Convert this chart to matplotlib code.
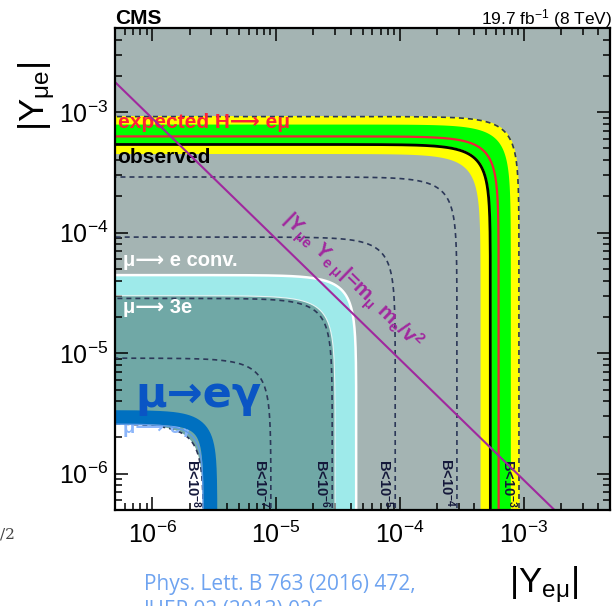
import numpy as np
import matplotlib
matplotlib.use('Agg')
import matplotlib.pyplot as plt
from matplotlib.ticker import LogLocator, NullFormatter
from matplotlib.transforms import blended_transform_factory, offset_copy

plt.rcParams['font.family'] = ['Liberation Sans', 'DejaVu Sans']
plt.rcParams['mathtext.fontset'] = 'custom'
plt.rcParams['mathtext.rm'] = 'Liberation Sans'
plt.rcParams['mathtext.it'] = 'Liberation Sans:italic'
plt.rcParams['mathtext.bf'] = 'Liberation Sans:bold'
plt.rcParams['mathtext.default'] = 'regular'

# ---------------- data ----------------
axis_range = [5e-7, 5e-3]
decade_ticks = [1e-6, 1e-5, 1e-4, 1e-3]
decade_labels = [r'$10^{-6}$', r'$10^{-5}$', r'$10^{-4}$', r'$10^{-3}$']

observed_limit = 5.4e-4
expected_limit = 6.3e-4
band_1sigma = [5.5e-4, 7.9e-4]
band_2sigma = [4.5e-4, 9.3e-4]

br_exponents = ['-8', '-7', '-6', '-5', '-4', '-3']
br_radii = [2.6e-6, 9.1e-6, 2.85e-5, 9.2e-5, 2.9e-4, 9.2e-4]

mu_e_conv_limit = 4.45e-5
mu_3e_limit = 3.0e-5
mu_e_gamma_limit = 2.6e-6
slide_mu_e_gamma_curve = 2.95e-6
naturalness_product = 8.9e-10     # m_mu m_e / v^2

# ---------------- colours ----------------
c_bg = '#a4b4b3'
c_teal = '#70a8a6'
c_cyan = '#9eeaea'
c_dash = '#2c3858'
c_magenta = '#a0289e'
c_slide_blue = '#0070c0'

P_CONTOUR = 2.5   # corner sharpness of drawn contours
P_SLIDE = 3.2


def arc(r, p=P_CONTOUR, n=1400):
    s = np.linspace(-17, 17, n)
    d = (1 + np.exp(p * s)) ** (1.0 / p)
    return r / d, r * np.exp(s) / d


TINY = 1e-16

fig = plt.figure(figsize=(6.14, 6.06), dpi=100)
ax = fig.add_axes([115 / 614, 1 - 510 / 606, 495 / 614, 482 / 606])
ax.set_xscale('log')
ax.set_yscale('log')
ax.set_xlim(axis_range)
ax.set_ylim(axis_range)
ax.set_facecolor(c_bg)

# regions
x, y = arc(mu_e_conv_limit)
ax.fill(np.r_[x, TINY], np.r_[y, TINY], color=c_cyan, lw=0, zorder=1)
x, y = arc(mu_3e_limit)
ax.fill(np.r_[x, TINY], np.r_[y, TINY], color=c_teal, lw=0, zorder=1.1)
x, y = arc(mu_e_gamma_limit)
ax.fill(np.r_[x, TINY], np.r_[y, TINY], color='white', lw=0, zorder=1.2)

# brazil bands
xo, yo = arc(band_2sigma[1])
xi, yi = arc(band_2sigma[0])
ax.fill(np.r_[xo, xi[::-1]], np.r_[yo, yi[::-1]], color='#ffff00', lw=0, zorder=2)
xo, yo = arc(band_1sigma[1])
xi, yi = arc(band_1sigma[0])
ax.fill(np.r_[xo, xi[::-1]], np.r_[yo, yi[::-1]], color='#00ff00', lw=0, zorder=2.1)

# white borders of the cyan band
x, y = arc(mu_e_conv_limit)
ax.plot(x, y, color='white', lw=1.8, zorder=2.5)
x, y = arc(mu_3e_limit)
ax.plot(x, y, color='white', lw=0.8, alpha=0.8, zorder=2.5)

# branching-ratio contours
for r in br_radii:
    x, y = arc(r)
    ax.plot(x, y, color=c_dash, lw=1.2, ls=(0, (3, 2.4)), zorder=3)

# expected / observed
x, y = arc(expected_limit)
ax.plot(x, y, color='#f0203a', lw=1.6, zorder=4)
x, y = arc(observed_limit)
ax.plot(x, y, color='black', lw=2.0, zorder=4.1)

# labels inside
ax.text(0.006, 0.793, 'expected H\u27f6 e\u03bc', transform=ax.transAxes,
        color='#ff1f3a', fontsize=15, fontweight='bold', va='baseline', zorder=5)
ax.text(0.004, 0.72, 'observed', transform=ax.transAxes,
        color='black', fontsize=15, fontweight='bold', va='baseline', zorder=5)
ax.text(0.016, 0.506, '\u03bc\u27f6 e conv.', transform=ax.transAxes,
        color='white', fontsize=14.5, fontweight='bold', va='baseline', zorder=5)
ax.text(0.016, 0.409, '\u03bc\u27f6 3e', transform=ax.transAxes,
        color='white', fontsize=14.5, fontweight='bold', va='baseline', zorder=5)
ax.text(0.016, 0.160, '\u03bc\u27f6 e\u03b3', transform=ax.transAxes,
        color='#8cb6fa', fontsize=14.5, fontweight='bold', va='baseline', zorder=5)

# BR labels
btrans = offset_copy(blended_transform_factory(ax.transData, ax.transAxes),
                     fig=fig, x=-10, y=0, units='dots')
for r, e in zip(br_radii, br_exponents):
    ax.text(r, 0.056, 'B<$10^{%s}$' % e, transform=btrans, rotation=-90,
            ha='center', va='center', fontsize=10.5, fontweight='bold',
            color='#14183a', zorder=5)

# naturalness line
xl = np.array([1e-8, 1e-1])
ax.plot(xl, naturalness_product / xl, color=c_magenta, lw=1.5, zorder=6)
ax.text(4.1e-5, 3.9e-5, r'$|Y_{\mu e}\ Y_{e\ \mu}|$=m$_{\mu}$ m$_{e}$/v$^{2}$',
        color=c_magenta, fontsize=15, fontweight='bold', rotation=-44.2,
        ha='center', va='center', rotation_mode='anchor', zorder=6)

# slide overlay: mu -> e gamma
x, y = arc(slide_mu_e_gamma_curve, p=P_SLIDE)
ax.plot(x, y, color=c_slide_blue, lw=10, solid_capstyle='butt', zorder=7)
x, y = arc(slide_mu_e_gamma_curve * 0.875, p=P_SLIDE)
ax.plot(x, y, color='#5d9be6', lw=1.0, zorder=7.1)
ax.text(0.168, 0.214, '\u03bc\u2192e\u03b3', transform=ax.transAxes,
        color='#0a55c4', fontsize=31, fontweight='bold', family='DejaVu Sans',
        ha='center', va='baseline', zorder=8)

# axes styling
ax.set_xticks(decade_ticks, labels=decade_labels)
ax.set_yticks(decade_ticks, labels=decade_labels)
for a in (ax.xaxis, ax.yaxis):
    a.set_minor_locator(LogLocator(base=10, subs=np.arange(2, 10)))
    a.set_minor_formatter(NullFormatter())
ax.tick_params(which='both', direction='in', top=True, right=True, width=1.1,
               colors='black', zorder=10)
ax.tick_params(which='major', length=9.5, labelsize=18)
ax.tick_params(which='minor', length=5)
ax.tick_params(axis='x', which='major', pad=8)
ax.tick_params(axis='y', which='major', pad=5)
for sp in ax.spines.values():
    sp.set_linewidth(1.6)
    sp.set_zorder(10)

# titles / axis titles
fig.text(115 / 614, 1 - 24 / 606, 'CMS', fontsize=15, fontweight='bold', va='baseline')
fig.text(612 / 614, 1 - 24 / 606, r'19.7 fb$^{-1}$ (8 TeV)', fontsize=12.5,
         ha='right', va='baseline')
fig.text(578 / 614, 1 - 592 / 606, r'$|Y_{e\mu}|$', fontsize=25, ha='right', va='baseline')
fig.text(37 / 614, 1 - 96 / 606, r'$|Y_{\mu e}|$', fontsize=25, rotation=90,
         ha='center', va='center')

# slide texts (second line is cut by the bottom edge, as in the slide)
fig.text(144 / 614, 1 - 590 / 606, 'Phys. Lett. B 763 (2016) 472,', family='Open Sans',
         fontsize=15, color='#6ea3f0', va='baseline')
fig.text(144 / 614, 1 - 616 / 606, 'JHEP 02 (2013) 026', family='Open Sans',
         fontsize=15, color='#6ea3f0', va='baseline')
fig.text(0.0, 1 - 538 / 606, '/2', family='DejaVu Serif', fontsize=11, color='#444444',
         va='baseline')

fig.savefig('out.png', dpi=100)
